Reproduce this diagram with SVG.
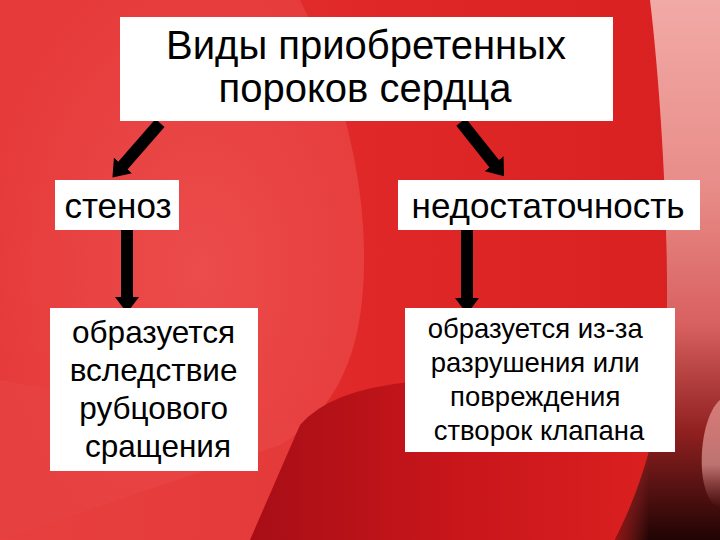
<svg xmlns="http://www.w3.org/2000/svg" width="720" height="540" viewBox="0 0 720 540">
  <defs>
    <linearGradient id="bgBase" x1="0" y1="0" x2="1" y2="0">
      <stop offset="0" stop-color="#e63838"/>
      <stop offset="0.5" stop-color="#e02828"/>
      <stop offset="1" stop-color="#d82020"/>
    </linearGradient>
    <radialGradient id="petal" cx="0.55" cy="0.5" r="0.6">
      <stop offset="0" stop-color="#ec4c4c"/>
      <stop offset="1" stop-color="#e63a3a"/>
    </radialGradient>
    <linearGradient id="darkBottom" x1="0" y1="0" x2="1" y2="0">
      <stop offset="0" stop-color="#a80e16"/>
      <stop offset="0.5" stop-color="#c8161b"/>
      <stop offset="1" stop-color="#dc2020"/>
    </linearGradient>
    <linearGradient id="rightPink" x1="0" y1="0" x2="0" y2="1">
      <stop offset="0" stop-color="#f2aaa6"/>
      <stop offset="0.35" stop-color="#e88c88"/>
      <stop offset="0.6" stop-color="#d86060"/>
      <stop offset="0.8" stop-color="#902020"/>
      <stop offset="1" stop-color="#200404"/>
    </linearGradient>
    <linearGradient id="rightShade" x1="0" y1="0" x2="1" y2="0">
      <stop offset="0" stop-color="#b01818" stop-opacity="0.8"/>
      <stop offset="0.4" stop-color="#c03030" stop-opacity="0"/>
    </linearGradient>
    <linearGradient id="finger" x1="0" y1="0" x2="0" y2="1">
      <stop offset="0" stop-color="#e89a96" stop-opacity="0.7"/>
      <stop offset="0.6" stop-color="#f0b0ac" stop-opacity="0.6"/>
      <stop offset="1" stop-color="#c07070" stop-opacity="0"/>
    </linearGradient>
    <marker id="head" viewBox="0 0 16 24" refX="3" refY="12" markerWidth="16" markerHeight="24" markerUnits="userSpaceOnUse" orient="auto">
      <path d="M0,0 L16,12 L0,24 Z" fill="#000"/>
    </marker>
    <style>
      .box { fill: #ffffff; }
      .t { font-family: "Liberation Sans", Arial, sans-serif; fill: #000; text-anchor: middle; }
      .arrow { stroke: #000; stroke-width: 12; fill: none; marker-end: url(#head); }
    </style>
  </defs>

  <g id="background">
    <rect x="0" y="0" width="720" height="540" fill="url(#bgBase)"/>
    <path d="M0,0 H300 C345,90 372,200 362,300 C354,380 320,420 280,445 L0,540 Z" fill="url(#petal)"/>
    <path d="M0,380 C100,400 200,410 300,425 L250,540 L0,540 Z" fill="#e84444" opacity="0.6"/>
    <path d="M250,540 L300,425 Q330,390 410,382 L650,378 L660,540 Z" fill="url(#darkBottom)"/>
    <path d="M650,0 C662,100 670,250 666,350 C660,430 640,490 615,540 L720,540 L720,0 Z" fill="url(#rightPink)"/>
    <path d="M650,0 C662,100 670,250 666,350 C660,430 640,490 615,540 L700,540 C690,480 700,300 690,0 Z" fill="url(#rightShade)"/>
    <path d="M720,400 C708,410 700,440 702,470 C704,495 712,505 720,508 Z" fill="url(#finger)"/>
  </g>

  <g id="connectors">
    <line class="arrow" x1="160" y1="123" x2="121" y2="167.7"/>
    <line class="arrow" x1="461" y1="122" x2="496" y2="166"/>
    <line class="arrow" x1="127" y1="230" x2="127" y2="300"/>
    <line class="arrow" x1="467" y1="230" x2="467" y2="301"/>
  </g>

  <g id="node-title">
    <rect class="box" x="120" y="17" width="493" height="104"/>
    <text class="t" x="366" y="59" font-size="40">Виды приобретенных</text>
    <text class="t" x="365" y="102" font-size="40">пороков сердца</text>
  </g>

  <g id="node-stenosis">
    <rect class="box" x="55" y="180" width="124" height="50"/>
    <text class="t" x="118" y="218" font-size="35">стеноз</text>
  </g>

  <g id="node-insufficiency">
    <rect class="box" x="398" y="180" width="302" height="50"/>
    <text class="t" x="548" y="218" font-size="35">недостаточность</text>
  </g>

  <g id="node-stenosis-cause">
    <rect class="box" x="50" y="308" width="208" height="163"/>
    <text class="t" font-size="31.5">
      <tspan x="158" y="343">образуется</tspan>
      <tspan x="158" y="381">вследствие</tspan>
      <tspan x="158" y="419">рубцового</tspan>
      <tspan x="158" y="457">сращения</tspan>
    </text>
  </g>

  <g id="node-insufficiency-cause">
    <rect class="box" x="405" y="308" width="270" height="144"/>
    <text class="t" font-size="27.5">
      <tspan x="539" y="338">образуется из-за</tspan>
      <tspan x="539" y="372">разрушения или</tspan>
      <tspan x="539" y="406">повреждения</tspan>
      <tspan x="539" y="440">створок клапана</tspan>
    </text>
  </g>
</svg>
